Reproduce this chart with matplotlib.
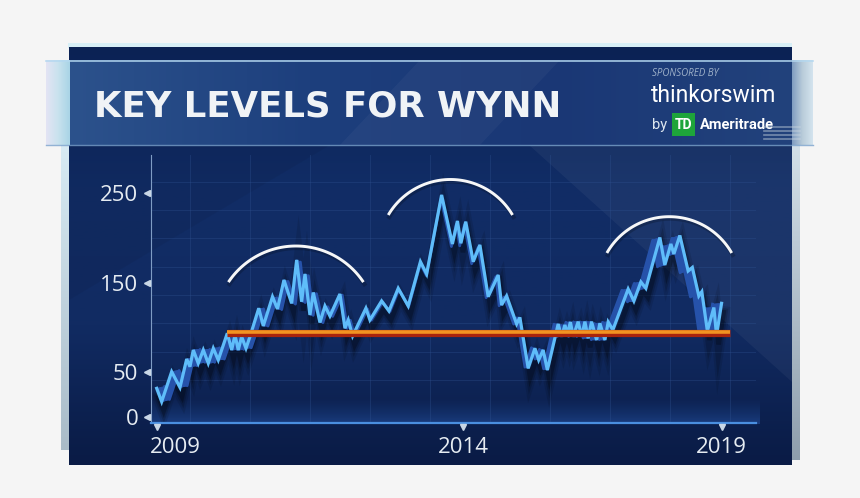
import numpy as np
import matplotlib
matplotlib.use("Agg")
import matplotlib.pyplot as plt
from matplotlib.patches import Rectangle, Polygon
from matplotlib.collections import PolyCollection
from matplotlib.transforms import offset_copy, ScaledTranslation

# WYNN price (decimal year, USD)
years = [2009.000, 2009.088, 2009.265, 2009.412, 2009.531, 2009.589, 2009.648, 2009.736,
         2009.825, 2009.913, 2010.002, 2010.090, 2010.250, 2010.327, 2010.386, 2010.444,
         2010.504, 2010.581, 2010.651, 2010.807, 2010.887, 2011.050, 2011.138, 2011.253,
         2011.389, 2011.478, 2011.566, 2011.625, 2011.713, 2011.772, 2011.890, 2011.979,
         2012.067, 2012.244, 2012.333, 2012.391, 2012.469, 2012.704, 2012.775, 2012.982,
         2013.112, 2013.276, 2013.453, 2013.669, 2013.779, 2014.044, 2014.235, 2014.324,
         2014.386, 2014.471, 2014.604, 2014.722, 2014.869, 2015.046, 2015.106, 2015.195,
         2015.372, 2015.430, 2015.577, 2015.696, 2015.763, 2015.842, 2015.917, 2016.108,
         2016.168, 2016.227, 2016.271, 2016.324, 2016.373, 2016.462, 2016.522, 2016.581,
         2016.639, 2016.699, 2016.788, 2016.846, 2016.935, 2016.993, 2017.076, 2017.347,
         2017.448, 2017.572, 2017.660, 2017.908, 2017.996, 2018.103, 2018.156, 2018.262,
         2018.409, 2018.483, 2018.598, 2018.651, 2018.749, 2018.864, 2018.912, 2019.000]
prices = [31.7, 16.8, 50.3, 32.7, 64.5, 55.9, 74.6, 59.7, 74.6, 59.7, 76.5, 63.4,
          93.3, 74.6, 91.4, 74.6, 89.5, 76.5, 89.5, 121.3, 101.5, 134.2, 120.5, 152.9,
          126.8, 175.3, 128.6, 159.6, 113.8, 138.9, 105.4, 123.8, 112.6, 137.2, 98.9, 108.2,
          90.3, 121.3, 108.2, 129.4, 118.2, 143.6, 123.8, 173.4, 159.6, 248.0, 193.2, 218.9,
          194.0, 218.1, 173.4, 192.1, 134.2, 158.5, 124.9, 135.0, 103.7, 111.0, 54.1, 76.5,
          63.4, 74.6, 52.2, 103.7, 89.5, 102.6, 92.5, 105.9, 89.5, 106.3, 89.5, 106.3,
          87.7, 106.3, 85.8, 104.5, 85.8, 105.9, 97.0, 142.8, 129.4, 150.7, 143.6, 200.4,
          169.7, 193.2, 182.0, 202.7, 163.0, 166.9, 135.0, 139.8, 95.9, 122.1, 90.8, 126.8]

# key support level
support_level = 94
support_span = [2010.24, 2019.15]

# the three "tops" marked with arcs: left x, right x, end level, top level
arc_left = [2010.27, 2013.10, 2016.97]
arc_right = [2012.66, 2015.30, 2019.18]
arc_end = [150.5, 225.6, 183.1]
arc_top = [190.9, 265.3, 223.7]

ytick_vals = [0, 50, 150, 250]
ytick_labels = ["0", "50", "150", "250"]
xtick_vals = [2009, 2014.43, 2019]
xtick_labels = ["2009", "2014", "2019"]

title = "KEY LEVELS FOR WYNN"

W, H = 860, 498
fig = plt.figure(figsize=(W / 100, H / 100), dpi=100, facecolor="#f5f5f5")

# ---- background card, drawn in pixel coords ----
bg = fig.add_axes([0, 0, 1, 1])
bg.set_xlim(0, W)
bg.set_ylim(H, 0)
bg.axis("off")

grad_v = np.linspace(0, 1, 256).reshape(-1, 1)
grad_h = np.linspace(0, 1, 256).reshape(1, -1)
cmap = matplotlib.colors.LinearSegmentedColormap.from_list

# side glass strips
bg.imshow(grad_v, extent=(61, 70, 450, 145), cmap=cmap("l", ["#d8ebf4", "#a9bbc8"]),
          aspect="auto", zorder=1)
bg.imshow(grad_v, extent=(791, 800, 460, 145), cmap=cmap("r", ["#d3e0e8", "#8e9ead"]),
          aspect="auto", zorder=1)

# glow along top edge
bg.add_patch(Rectangle((68, 43), 724, 5, color="#c6ecf8", alpha=0.6, lw=0, zorder=1))

# main dark panel
panel_cmap = cmap("p", ["#0b2254", "#112d66", "#112b62", "#0a1b45"])
bg.imshow(grad_v, extent=(69, 792, 465, 47), cmap=panel_cmap, aspect="auto", zorder=2)
# lighter diagonal facet on the right
bg.add_patch(Polygon([(529, 145), (792, 145), (792, 382)], closed=True,
                     color="white", alpha=0.045, lw=0, zorder=2.1))
bg.add_patch(Polygon([(69, 145), (330, 145), (69, 300)], closed=True,
                     color="black", alpha=0.05, lw=0, zorder=2.1))

# header band
head_cmap = cmap("h", ["#2c528c", "#1d3f7d", "#1a3775", "#22427c"])
bg.imshow(grad_h, extent=(69, 792, 145, 60), cmap=head_cmap, aspect="auto", zorder=3)
bg.add_patch(Polygon([(420, 60), (560, 60), (480, 145), (340, 145)], closed=True,
                     color="white", alpha=0.035, lw=0, zorder=3.1))
bg.imshow(grad_h, extent=(46, 70, 145, 60), cmap=cmap("gl", ["#e4e4f4", "#c9e2ee", "#a8d4e6"]),
          aspect="auto", zorder=3)
bg.imshow(grad_h, extent=(792, 813, 145, 60), cmap=cmap("gr", ["#7f9cc0", "#b9ccda", "#d4e4ee"]),
          aspect="auto", zorder=3)
bg.plot([46, 813], [60.8, 60.8], color="#b4d8f0", lw=1.2, alpha=0.9, zorder=3.2)
bg.plot([46, 813], [144.5, 144.5], color="#7aa2cc", lw=1.0, alpha=0.8, zorder=3.2)

# header text
bg.text(94, 106, title, color="#f0f3f6", fontsize=25.6, fontfamily="DejaVu Sans",
        fontweight="bold", va="center", ha="left", zorder=4)
bg.text(652, 73, "SPONSORED BY", color="#9eb1c9", fontsize=7, fontstyle="italic",
        fontfamily=["Open Sans", "DejaVu Sans"], va="center", ha="left", zorder=4)
bg.text(651, 95, "thinkorswim", color="white", fontsize=16.5,
        fontfamily=["Roboto", "DejaVu Sans"], va="center", ha="left", zorder=4)
bg.text(652, 125, "by", color="#dde6ef", fontsize=10.5,
        fontfamily=["Roboto", "DejaVu Sans"], va="center", ha="left", zorder=4)
bg.add_patch(Rectangle((672, 113), 23, 23, color="#1ea53a", lw=0, zorder=4))
bg.text(683.5, 125, "TD", color="white", fontsize=10, fontweight="bold",
        fontfamily=["Roboto", "DejaVu Sans"], va="center", ha="center", zorder=5)
bg.text(700, 125, "Ameritrade", color="white", fontsize=10.5, fontweight="bold",
        fontfamily=["Roboto", "DejaVu Sans"], va="center", ha="left", zorder=4)
for yy in range(127, 143, 4):
    bg.plot([764, 800], [yy, yy], color="#c8d4de", lw=1.2, alpha=0.5, zorder=4)

# glow under the x axis
glow = np.linspace(0, 1, 64).reshape(-1, 1)
bg.imshow(glow, extent=(151, 760, 424, 398),
          cmap=cmap("g", [(0.15, 0.35, 0.7, 0.0), (0.2, 0.45, 0.85, 0.35)]),
          aspect="auto", zorder=2.5)

# ---- chart axes ----
ax = fig.add_axes([150.7 / W, (H - 423.3) / H, (756 - 150.7) / W, (423.3 - 155) / H])
ax.patch.set_alpha(0)
ax.set_xlim(2008.894, 2019.61)
ax.set_ylim(-7.4, 292.7)

for gx in np.arange(2009.59, 2019.5, 1.062):
    ax.axvline(gx, color="#2f5290", lw=0.7, alpha=0.35, zorder=1)
for gy in np.arange(41, 290, 31.7):
    ax.axhline(gy, color="#2f5290", lw=0.7, alpha=0.35, zorder=1)

x = np.array(years)
y = np.array(prices)

# drop shadow
for lw, a in [(9, 0.10), (6, 0.15), (3.5, 0.25)]:
    ax.plot(x, y, color="black", lw=lw, alpha=a, solid_joinstyle="miter",
            transform=offset_copy(ax.transData, fig, x=2, y=-9, units="dots"), zorder=2)

# extruded back ribbon (perspective toward chart centre)
xc, yc, k = 2013.66, 97.0, 0.97
xb = xc + k * (x - xc)
yb = yc + k * (y - yc)
quads = [[(x[i], y[i]), (x[i + 1], y[i + 1]), (xb[i + 1], yb[i + 1]), (xb[i], yb[i])]
         for i in range(len(x) - 1)]
ax.add_collection(PolyCollection(quads, facecolor="#2652aa", edgecolor="#2652aa",
                                 lw=0.6, zorder=3))
ax.plot(xb, yb, color="#2652aa", lw=2.0, zorder=3)

# front line
ax.plot(x, y, color="#5fbdfa", lw=2.3, solid_joinstyle="miter", zorder=4)

# support line
ax.plot(support_span, [support_level] * 2, color="#a8240d", lw=5.2, zorder=5,
        solid_capstyle="butt")
ax.plot(support_span, [support_level] * 2, color="#f29322", lw=2.6, zorder=6,
        solid_capstyle="butt",
        transform=offset_copy(ax.transData, fig, x=0, y=0.6, units="dots"))


# arcs over the tops: circle through three points in pixel space
def draw_arc(x0, x1, y_end, y_top):
    pts = ax.transData.transform([(x0, y_end), ((x0 + x1) / 2, y_top), (x1, y_end)])
    (ax_, ay), (bx, by), (cx, cy) = pts
    d = 2 * (ax_ * (by - cy) + bx * (cy - ay) + cx * (ay - by))
    ux = ((ax_**2 + ay**2) * (by - cy) + (bx**2 + by**2) * (cy - ay) + (cx**2 + cy**2) * (ay - by)) / d
    uy = ((ax_**2 + ay**2) * (cx - bx) + (bx**2 + by**2) * (ax_ - cx) + (cx**2 + cy**2) * (bx - ax_)) / d
    r = np.hypot(ax_ - ux, ay - uy)
    t0 = np.arctan2(ay - uy, ax_ - ux)
    t1 = np.arctan2(cy - uy, cx - ux)
    t = np.linspace(t1, t0, 80)
    arc = ax.transData.inverted().transform(np.column_stack([ux + r * np.cos(t), uy + r * np.sin(t)]))
    ax.plot(arc[:, 0], arc[:, 1], color="black", lw=3, alpha=0.2, zorder=6,
            transform=offset_copy(ax.transData, fig, x=1, y=-2, units="dots"))
    ax.plot(arc[:, 0], arc[:, 1], color="#f6f7f8", lw=2.1, zorder=7,
            solid_capstyle="butt")


for i in range(len(arc_left)):
    draw_arc(arc_left[i], arc_right[i], arc_end[i], arc_top[i])

# axes styling
for s in ["top", "right"]:
    ax.spines[s].set_visible(False)
ax.spines["left"].set_color("#7f9cc4")
ax.spines["left"].set_linewidth(0.8)
ax.spines["bottom"].set_color("#4a8fe0")
ax.spines["bottom"].set_linewidth(1.6)

ax.set_yticks(ytick_vals)
ax.set_yticklabels(ytick_labels)
ax.set_xticks(xtick_vals)
ax.set_xticklabels(xtick_labels)
ax.tick_params(length=0, colors="#e6ecf2", labelsize=16)
ax.tick_params(axis="y", pad=9)
ax.tick_params(axis="x", pad=10)
for lab in ax.get_xticklabels() + ax.get_yticklabels():
    lab.set_fontfamily(["Open Sans", "DejaVu Sans"])
first = ax.get_xticklabels()[0]
first.set_horizontalalignment("left")
first.set_transform(first.get_transform() + ScaledTranslation(-7 / 100, 0, fig.dpi_scale_trans))

# little triangle tick markers
ax.plot([0] * len(ytick_vals), ytick_vals, ls="none", marker="<", ms=4.5, color="#c9d7e6",
        transform=offset_copy(ax.get_yaxis_transform(), fig, x=-4, y=0, units="dots"),
        clip_on=False, zorder=8)
ax.plot(xtick_vals, [0] * len(xtick_vals), ls="none", marker="v", ms=5, color="#c9d7e6",
        transform=offset_copy(ax.get_xaxis_transform(), fig, x=0, y=-4, units="dots"),
        clip_on=False, zorder=8)

fig.savefig("out.png", dpi=100, facecolor=fig.get_facecolor())
